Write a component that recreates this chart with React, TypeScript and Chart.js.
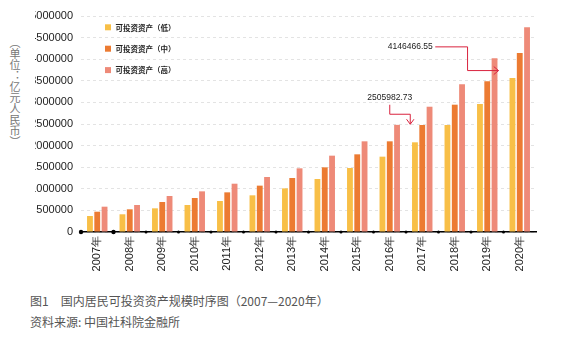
import React, { useEffect, useRef } from 'react';
import { Chart, registerables } from 'chart.js';

Chart.register(...registerables);

const categories = ['2007年', '2008年', '2009年', '2010年', '2011年', '2012年', '2013年', '2014年', '2015年', '2016年', '2017年', '2018年', '2019年', '2020年'];
const seriesLabels = ['可投资资产（低）', '可投资资产（中）', '可投资资产（高）'];
const lowValues = [370000, 410000, 548000, 625000, 718000, 849000, 1010000, 1227000, 1481000, 1744000, 2076000, 2477000, 2963000, 3565000];
const midValues = [470000, 525000, 694000, 787000, 918000, 1073000, 1250000, 1497000, 1798000, 2099000, 2477000, 2947000, 3488000, 4146000];
const highValues = [586000, 625000, 833000, 941000, 1118000, 1273000, 1474000, 1767000, 2099000, 2480000, 2900000, 3419000, 4020000, 4740000];
const seriesColors = ['#F8BF47', '#EC7B32', '#EE8A78'];
const yTickValues = [0, 500000, 1000000, 1500000, 2000000, 2500000, 3000000, 3500000, 4000000, 4500000, 5000000];
const yAxisTitle = '（单位：亿元人民币）';
const captionLine1 = '图1　国内居民可投资资产规模时序图（2007—2020年）';
const captionLine2 = '资料来源: 中国社科院金融所';
const annotationTexts = ['2505982.73', '4146466.55'];
const annotationValues = [2505982.73, 4146466.55];
const annotationCategoryIdx = [9, 12];

const legendPlugin = {
  id: 'customLegend',
  afterDraw(chart: any) {
    const { ctx, chartArea } = chart;
    ctx.save();
    chart.data.datasets.forEach((ds: any, i: number) => {
      const cy = chartArea.top + 11.3 + 21.4 * i;
      ctx.fillStyle = ds.backgroundColor;
      ctx.fillRect(chartArea.left + 24, cy - 3, 6, 6);
      ctx.fillStyle = '#222';
      ctx.font = 'bold 7.5px "Noto Sans CJK SC", sans-serif';
      ctx.textAlign = 'left';
      ctx.textBaseline = 'middle';
      ctx.fillText(ds.label, chartArea.left + 34.5, cy + 0.5);
    });
    ctx.restore();
  },
};

const dotsPlugin = {
  id: 'axisDots',
  afterDatasetsDraw(chart: any) {
    const { ctx, scales } = chart;
    const x = scales.x;
    const yb = scales.y.getPixelForValue(0);
    const w = x.width / categories.length;
    ctx.save();
    ctx.fillStyle = '#000';
    for (let i = 0; i < categories.length; i++) {
      const px = x.left + i * w;
      ctx.beginPath();
      ctx.arc(px, yb, i < 2 ? 2.2 : 1.5, 0, Math.PI * 2);
      ctx.fill();
    }
    ctx.restore();
  },
};

const annotationPlugin = {
  id: 'annotations',
  afterDatasetsDraw(chart: any) {
    const { ctx, scales } = chart;
    const x = scales.x;
    const y = scales.y;
    ctx.save();
    ctx.font = '8.5px "Liberation Sans", Arial, sans-serif';
    ctx.fillStyle = '#222';
    ctx.textBaseline = 'middle';
    ctx.strokeStyle = '#D9233E';
    ctx.lineWidth = 1;

    // annotation 1
    const c1 = x.getPixelForValue(annotationCategoryIdx[0]);
    const t1 = y.getPixelForValue(annotationValues[0]);
    ctx.textAlign = 'center';
    ctx.fillText(annotationTexts[0], c1, t1 - 26);
    ctx.beginPath();
    ctx.moveTo(c1, t1 - 19);
    ctx.lineTo(c1, t1 - 9.5);
    ctx.lineTo(c1 + 20.5, t1 - 9.5);
    ctx.lineTo(c1 + 20.5, t1 + 0.5);
    ctx.moveTo(c1 + 16.8, t1 - 4.5);
    ctx.lineTo(c1 + 20.5, t1 + 0.5);
    ctx.lineTo(c1 + 24.2, t1 - 4.5);
    ctx.stroke();

    // annotation 2
    const c2 = x.getPixelForValue(annotationCategoryIdx[1]);
    const t2 = y.getPixelForValue(annotationValues[1]) - 6;
    ctx.textAlign = 'right';
    ctx.fillText(annotationTexts[1], c2 - 54.5, t2);
    ctx.beginPath();
    ctx.moveTo(c2 - 52, t2);
    ctx.lineTo(c2 - 19.7, t2);
    ctx.lineTo(c2 - 19.7, t2 + 23.7);
    ctx.lineTo(c2 + 11.3, t2 + 23.7);
    ctx.moveTo(c2 + 6.5, t2 + 19.7);
    ctx.lineTo(c2 + 11.3, t2 + 23.7);
    ctx.lineTo(c2 + 6.5, t2 + 27.7);
    ctx.stroke();
    ctx.restore();
  },
};

export default function App() {
  const canvasRef = useRef<HTMLCanvasElement | null>(null);

  useEffect(() => {
    const canvas = canvasRef.current;
    if (!canvas) return;
    const valuesList = [lowValues, midValues, highValues];
    const chart = new Chart(canvas, {
      type: 'bar',
      data: {
        labels: categories,
        datasets: valuesList.map((vals, i) => ({
          label: seriesLabels[i],
          data: vals,
          backgroundColor: seriesColors[i],
          borderWidth: 0,
          categoryPercentage: 0.674,
          barPercentage: 0.8,
        })),
      },
      options: {
        responsive: false,
        animation: false,
        devicePixelRatio: 1,
        layout: { padding: { left: 0, right: 26, top: 16, bottom: 0 } },
        plugins: {
          legend: { display: false },
          tooltip: { enabled: false },
        },
        scales: {
          x: {
            grid: { display: true, color: 'rgba(0,0,0,0)', drawTicks: false },
            border: { display: true, color: '#000', width: 1.5 },
            ticks: {
              autoSkip: false,
              maxRotation: 90,
              minRotation: 90,
              padding: 4,
              color: '#222',
              font: { family: '"Liberation Sans", Arial, sans-serif', size: 11 },
            },
            afterFit: (s: any) => { s.height = 48; },
          },
          y: {
            min: 0,
            max: 5000000,
            afterBuildTicks: (s: any) => { s.ticks = yTickValues.map((v) => ({ value: v })); },
            grid: { color: '#e3e3e3', drawTicks: false, lineWidth: 1 },
            border: { display: false, dash: [3, 3] },
            ticks: {
              padding: 8,
              color: '#222',
              font: { family: '"Liberation Sans", Arial, sans-serif', size: 11 },
              callback: (v: any) => String(v),
            },
            afterFit: (s: any) => { s.width = 81; },
          },
        },
      },
      plugins: [dotsPlugin, annotationPlugin, legendPlugin],
    });
    return () => chart.destroy();
  }, []);

  return (
    <div style={{ position: 'relative', width: 562, height: 342, margin: '-8px 0 0 -8px', background: '#fff', overflow: 'hidden' }}>
      <div style={{ position: 'absolute', left: 35, top: 0, width: 527, height: 280, overflow: 'hidden' }}>
        <canvas ref={canvasRef} width={562} height={280} style={{ position: 'absolute', left: -35, top: 0, width: 562, height: 280 }} />
      </div>
      <div style={{ position: 'absolute', left: 9, top: 37, writingMode: 'vertical-rl', fontFamily: '"Noto Sans CJK SC", sans-serif', fontSize: 11, lineHeight: '12px', color: '#777' }}>
        {yAxisTitle}
      </div>
      <div style={{ position: 'absolute', left: 30, top: 294, fontFamily: '"Noto Sans CJK SC", sans-serif', fontSize: 12, lineHeight: '14px', color: '#555', whiteSpace: 'nowrap' }}>
        {captionLine1}
      </div>
      <div style={{ position: 'absolute', left: 30, top: 315, fontFamily: '"Noto Sans CJK SC", sans-serif', fontSize: 12, lineHeight: '14px', color: '#555', whiteSpace: 'nowrap' }}>
        {captionLine2}
      </div>
    </div>
  );
}
